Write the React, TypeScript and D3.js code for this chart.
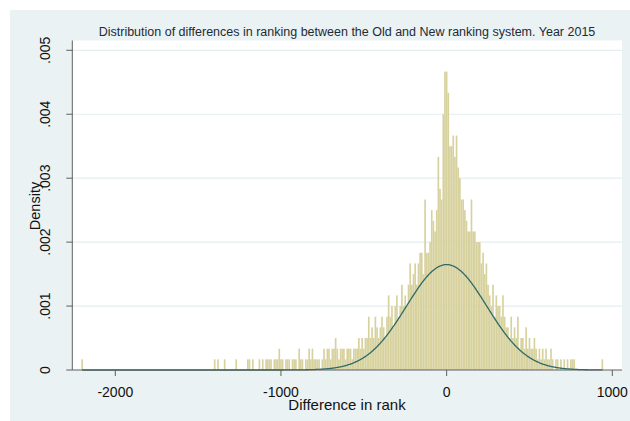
import React from "react";
import * as d3 from "d3";

// Chart text
const chartTitle =
  "Distribution of differences in ranking between the Old and New ranking system. Year 2015";
const xAxisTitle = "Difference in rank";
const yAxisTitle = "Density";

// Axis ticks
const xTicks = [-2000, -1000, 0, 1000];
const xTickLabels = ["-2000", "-1000", "0", "1000"];
const yTicks = [0, 0.001, 0.002, 0.003, 0.004, 0.005];
const yTickLabels = ["0", ".001", ".002", ".003", ".004", ".005"];

// Histogram bins: width 10, first bin starts at -2205 (centre -2200)
const binStart = -2205;
const binWidth = 10;
const densityPerObs = 1 / 6000;

// Observations per bin, bin centres -2200 ... 940
const tailLeft = [1];
const emptyLeft = new Array(79).fill(0);
const binsM1400 = [
  1, 0, 1, 0, 0, 0, 1, 0, 0, 0,
  0, 0, 0, 1, 0, 0, 0, 0, 0, 0,
  1, 1, 0, 1, 0, 0, 0, 1, 0, 1,
  0, 1, 1, 1, 1, 0, 1, 1, 1, 2,
  1, 1, 0, 1, 1, 1, 0, 1,
];
const binsM920 = [
  1, 1, 0, 2, 1, 1, 0, 1, 1, 2,
  1, 2, 1, 1, 1, 1, 0, 1, 2, 1,
  2, 2, 1, 2, 2, 3, 2, 1, 2, 2,
  2, 1, 2, 2, 2, 1, 2, 2, 2, 3,
  2, 3, 2, 3, 3, 5, 3, 4, 3, 5,
];
const binsM420 = [4, 3, 4, 5, 4, 3, 5, 7, 5, 6, 4, 6, 7, 5, 6, 8, 6, 7, 6, 8, 10];
const binsM210 = [8, 9, 10, 8, 10, 11, 11, 9, 16, 11];
const binsM110 = [11, 12, 15, 14, 13, 15];
const binsM50 = [20, 17, 16, 24, 28, 28, 26, 21, 21, 22];
const bins50 = [20, 22, 19, 18, 16, 16, 15, 14, 13, 13, 16, 13, 13, 12, 12, 12];
const bins210 = [10, 11, 9, 10, 8, 7, 6, 8, 5, 7, 6, 6, 5, 7, 5, 4];
const bins370 = [4, 3, 5, 3, 4, 3, 5, 2, 3, 3, 2, 4, 2, 3, 2, 2];
const bins530 = [3, 2, 1, 2, 1, 2, 1, 2, 1, 1];
const bins630 = [2, 1, 0, 1, 1, 0];
const bins690 = [1, 0, 1, 0, 1, 0, 1, 1, 1];
const emptyRight = new Array(16).fill(0);
const tailRight = [1];

const binCounts = [
  ...tailLeft, ...emptyLeft, ...binsM1400, ...binsM920, ...binsM420,
  ...binsM210, ...binsM110, ...binsM50, ...bins50, ...bins210,
  ...bins370, ...bins530, ...bins630, ...bins690, ...emptyRight, ...tailRight,
];

// Normal density overlay over the data range
const normalMean = 0;
const normalSd = 242;
const curveFrom = -2200;
const curveTo = 940;

const W = 630;
const H = 421;
const plotLeft = 72.3;
const plotRight = 622;
const plotTop = 40.5;
const plotBottom = 370;

const font = "'Liberation Sans', Arial, sans-serif";

export default function App() {
  const x = d3.scaleLinear().domain([-2000, 1000]).range([115.3, 612.3]);
  const y = d3.scaleLinear().domain([0, 0.005]).range([370, 50.3]);

  const bars = binCounts
    .map((c, i) => ({ c, x0: binStart + i * binWidth }))
    .filter((b) => b.c > 0);

  const normalPdf = (v: number) =>
    Math.exp(-0.5 * ((v - normalMean) / normalSd) ** 2) /
    (normalSd * Math.sqrt(2 * Math.PI));
  const curvePts = d3.range(curveFrom, curveTo + 1, 4).map((v) => [v, normalPdf(v)] as [number, number]);
  const line = d3
    .line<[number, number]>()
    .x((d) => x(d[0]))
    .y((d) => y(d[1]))
    .curve(d3.curveLinear);

  const axisColor = "#5f5f5f";

  return (
    <svg
      width={W}
      height={H}
      style={{ position: "absolute", left: 0, top: 0, display: "block" }}
    >
      <rect x={0} y={0} width={W} height={H} fill="#ffffff" />
      <rect x={10} y={10} width={W - 10} height={H - 10} fill="#eaf2f3" />
      <rect
        x={plotLeft}
        y={plotTop}
        width={plotRight - plotLeft}
        height={plotBottom - plotTop}
        fill="#ffffff"
      />
      {/* horizontal gridlines */}
      {yTicks
        .filter((t) => t > 0)
        .map((t) => (
          <line
            key={t}
            x1={plotLeft}
            x2={plotRight}
            y1={y(t)}
            y2={y(t)}
            stroke="#e6eef0"
            strokeWidth={1.2}
          />
        ))}
      {/* histogram */}
      <g>
        {bars.map((b) => {
          const x0 = x(b.x0);
          const x1 = x(b.x0 + binWidth);
          const top = y(b.c * densityPerObs);
          return (
            <rect
              key={b.x0}
              x={x0}
              y={top}
              width={x1 - x0}
              height={y(0) - top}
              fill="#d7d19e"
            />
          );
        })}
      </g>
      {/* normal curve */}
      <path d={line(curvePts) || ""} fill="none" stroke="#2e6b66" strokeWidth={1.3} />
      {/* y axis */}
      <line x1={plotLeft} x2={plotLeft} y1={plotTop} y2={plotBottom} stroke={axisColor} strokeWidth={1} />
      {yTicks.map((t, i) => (
        <g key={t}>
          <line x1={plotLeft - 6} x2={plotLeft} y1={y(t)} y2={y(t)} stroke={axisColor} strokeWidth={1} />
          <text
            transform={`translate(50,${y(t)}) rotate(-90)`}
            textAnchor="middle"
            fontFamily={font}
            fontSize={14}
            fill="#111"
          >
            {yTickLabels[i]}
          </text>
        </g>
      ))}
      <text
        transform={`translate(40,206) rotate(-90)`}
        textAnchor="middle"
        fontFamily={font}
        fontSize={14.5}
        fill="#111"
      >
        {yAxisTitle}
      </text>
      {/* x axis */}
      <line x1={plotLeft} x2={plotRight} y1={plotBottom} y2={plotBottom} stroke={axisColor} strokeWidth={1} />
      {xTicks.map((t, i) => (
        <g key={t}>
          <line x1={x(t)} x2={x(t)} y1={plotBottom} y2={plotBottom + 6} stroke={axisColor} strokeWidth={1} />
          <text x={x(t)} y={397} textAnchor="middle" fontFamily={font} fontSize={14} fill="#111">
            {xTickLabels[i]}
          </text>
        </g>
      ))}
      <text x={347} y={410} textAnchor="middle" fontFamily={font} fontSize={15} fill="#111">
        {xAxisTitle}
      </text>
      {/* title */}
      <text x={347} y={36} textAnchor="middle" fontFamily={font} fontSize={12.5} fill="#1e2a36">
        {chartTitle}
      </text>
    </svg>
  );
}
